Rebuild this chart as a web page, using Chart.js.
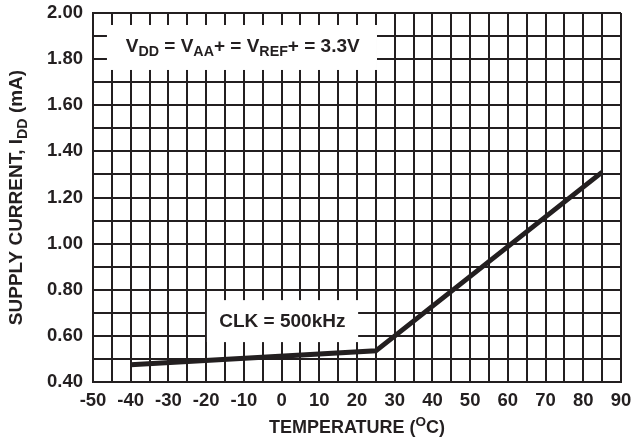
<!DOCTYPE html>
<html>
<head>
<meta charset="utf-8">
<script src="https://cdn.jsdelivr.net/npm/chart.js@4.4.0/dist/chart.umd.min.js"></script>
<style>
  html, body { margin: 0; padding: 0; background: #fff; }
  #c { display: block; }
</style>
</head>
<body>
<canvas id="c" width="632" height="442"></canvas>
<script>
// ---- data ----
const temperatures = [-40, 25, 85];          // °C
const supplyCurrent = [0.475, 0.535, 1.31];  // mA
const xTickLabels = [-50, -40, -30, -20, -10, 0, 10, 20, 30, 40, 50, 60, 70, 80, 90];
const yTickLabels = ['0.40', '0.60', '0.80', '1.00', '1.20', '1.40', '1.60', '1.80', '2.00'];

const INK = '#231f20';
const FONT = '"Liberation Sans", Arial, Helvetica, sans-serif';

function drawRich(ctx, parts, x, y, size) {
  const measure = p => {
    const s = (p.sub || p.sup) ? size * 0.75 : size;
    ctx.font = 'bold ' + s + 'px ' + FONT;
    return ctx.measureText(p.t).width;
  };
  let total = 0;
  parts.forEach(p => total += measure(p));
  let cx = x - total / 2;
  ctx.textAlign = 'left';
  ctx.textBaseline = 'middle';
  parts.forEach(p => {
    const w = measure(p);
    let dy = 0;
    if (p.sub) dy = size * 0.3;
    if (p.sup) dy = -size * 0.32;
    ctx.fillText(p.t, cx, y + dy);
    cx += w;
  });
}

const annotations = {
  id: 'annotations',
  beforeDatasetsDraw(chart) {
    const {ctx, scales: {x, y}} = chart;
    ctx.save();
    ctx.fillStyle = '#ffffff';
    const boxes = [
      {x0: -46.3, x1: 25.3, y0: 1.948, y1: 1.753},
      {x0: -19.8, x1: 20.3, y0: 0.755, y1: 0.573}
    ];
    boxes.forEach(b => {
      const px0 = x.getPixelForValue(b.x0), px1 = x.getPixelForValue(b.x1);
      const py0 = y.getPixelForValue(b.y0), py1 = y.getPixelForValue(b.y1);
      ctx.fillRect(px0, py0, px1 - px0, py1 - py0);
    });
    ctx.restore();
  },
  afterDraw(chart) {
    const {ctx, scales: {x, y}, chartArea} = chart;
    ctx.save();
    ctx.fillStyle = INK;
    drawRich(ctx, [
      {t: 'V'}, {t: 'DD', sub: true}, {t: ' = V'}, {t: 'AA', sub: true},
      {t: '+ = V'}, {t: 'REF', sub: true}, {t: '+ = 3.3V'}
    ], x.getPixelForValue(-10.3), y.getPixelForValue(1.855), 19);
    drawRich(ctx, [{t: 'CLK = 500kHz'}], x.getPixelForValue(0.2), y.getPixelForValue(0.662), 19);
    drawRich(ctx, [{t: 'TEMPERATURE ('}, {t: 'O', sup: true}, {t: 'C)'}],
      (chartArea.left + chartArea.right) / 2, 428, 18);
    ctx.save();
    ctx.translate(17, (chartArea.top + chartArea.bottom) / 2);
    ctx.rotate(-Math.PI / 2);
    drawRich(ctx, [{t: 'SUPPLY CURRENT, I'}, {t: 'DD', sub: true}, {t: ' (mA)'}], 0, 0, 19);
    ctx.restore();
    ctx.restore();
  }
};

new Chart(document.getElementById('c'), {
  type: 'line',
  data: {
    datasets: [{
      data: temperatures.map((t, i) => ({x: t, y: supplyCurrent[i]})),
      borderColor: INK,
      borderWidth: 5,
      pointRadius: 0,
      tension: 0,
      fill: false,
      borderCapStyle: 'butt',
      borderJoinStyle: 'miter'
    }]
  },
  options: {
    responsive: false,
    animation: false,
    devicePixelRatio: 1,
    layout: {padding: {top: 13, right: 11, left: 0, bottom: 0}},
    plugins: {legend: {display: false}, tooltip: {enabled: false}, title: {display: false}},
    scales: {
      x: {
        type: 'linear',
        min: -50, max: 90,
        afterFit(s) { s.height = 60; s.paddingLeft = 0; s.paddingRight = 0; },
        afterBuildTicks(s) {
          const t = [];
          for (let v = -50; v <= 90; v += 5) t.push({value: v});
          s.ticks = t;
        },
        ticks: {
          autoSkip: false,
          maxRotation: 0,
          padding: 8,
          color: INK,
          font: {family: FONT, size: 18.5, weight: 'bold'},
          callback: v => (xTickLabels.includes(Math.round(v)) ? String(Math.round(v)) : '')
        },
        grid: {color: INK, lineWidth: 2, drawTicks: false},
        border: {display: true, color: INK, width: 2}
      },
      y: {
        type: 'linear',
        min: 0.4, max: 2.0,
        afterFit(s) { s.width = 93; s.paddingTop = 0; s.paddingBottom = 0; },
        afterBuildTicks(s) {
          const t = [];
          for (let k = 0; k <= 16; k++) t.push({value: Math.round((0.4 + k * 0.1) * 100) / 100});
          s.ticks = t;
        },
        ticks: {
          autoSkip: false,
          padding: 10,
          color: INK,
          font: {family: FONT, size: 18.5, weight: 'bold'},
          callback: v => {
            const s = v.toFixed(2);
            return yTickLabels.includes(s) ? s : '';
          }
        },
        grid: {color: INK, lineWidth: 2, drawTicks: false},
        border: {display: true, color: INK, width: 2}
      }
    }
  },
  plugins: [annotations]
});
</script>
</body>
</html>
